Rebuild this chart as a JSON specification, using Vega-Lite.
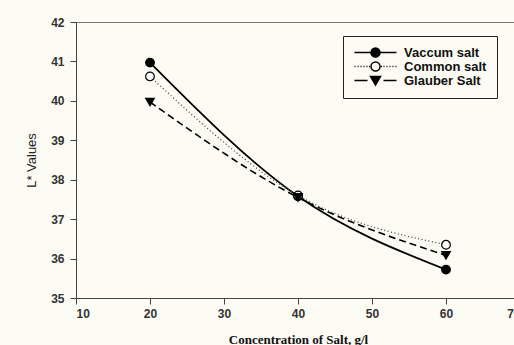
{
  "$schema": "https://vega.github.io/schema/vega-lite/v6.json",
  "autosize": {"type": "none"},
  "padding": {"left": 76, "top": 22, "right": 0, "bottom": 47},
  "width": 444,
  "height": 276,
  "background": "#fcfbf4",
  "config": {
    "view": {"stroke": "#777", "strokeWidth": 1},
    "axis": {
      "domainColor": "#444",
      "tickColor": "#444",
      "grid": false,
      "labelFont": "Liberation Sans",
      "labelFontWeight": "bold",
      "labelFontSize": 12,
      "labelColor": "#333",
      "tickSize": 6
    }
  },
  "data": {
    "values": [
      {"series": "Vaccum salt", "conc": 20, "L": 40.97},
      {"series": "Vaccum salt", "conc": 40, "L": 37.58},
      {"series": "Vaccum salt", "conc": 60, "L": 35.72},
      {"series": "Common salt", "conc": 20, "L": 40.62},
      {"series": "Common salt", "conc": 40, "L": 37.60},
      {"series": "Common salt", "conc": 60, "L": 36.35},
      {"series": "Glauber Salt", "conc": 20, "L": 39.97},
      {"series": "Glauber Salt", "conc": 40, "L": 37.55},
      {"series": "Glauber Salt", "conc": 60, "L": 36.08}
    ]
  },
  "encoding": {
    "x": {
      "field": "conc", "type": "quantitative",
      "scale": {"domain": [10, 70], "nice": false, "zero": false},
      "axis": {"values": [10, 20, 30, 40, 50, 60, 70], "title": "Concentration of Salt, g/l",
        "titleFont": "Liberation Serif", "titleFontSize": 13, "titleFontWeight": "bold", "titleColor": "#111",
        "labelPadding": 4, "titlePadding": 14}
    },
    "y": {
      "field": "L", "type": "quantitative",
      "scale": {"domain": [35, 42], "nice": false, "zero": false},
      "axis": {"values": [35, 36, 37, 38, 39, 40, 41, 42], "title": "L* Values",
        "titleFont": "Liberation Sans", "titleFontSize": 13, "titleFontWeight": "normal", "titleColor": "#222",
        "labelPadding": 6, "titlePadding": 12}
    }
  },
  "layer": [
    {
      "transform": [{"filter": "datum.series === 'Vaccum salt'"}],
      "mark": {"type": "line", "interpolate": "monotone", "stroke": "black", "strokeWidth": 1.8},
      "encoding": {
        "opacity": {
          "field": "series", "type": "nominal",
          "scale": {"domain": ["Vaccum salt", "Common salt", "Glauber Salt"], "range": [1, 1, 1]},
          "legend": {
            "title": null,
            "orient": "none",
            "legendX": 267,
            "legendY": 14,
            "strokeColor": "#222",
            "padding": 10,
            "symbolSize": 100,
            "symbolStrokeWidth": 1.5,
            "symbolStrokeColor": "black",
            "symbolType": {"expr": "datum.value === 'Vaccum salt' ? 'M-1,0H7.4M2.3,0A0.9,0.9,0,1,1,4.1,0A0.9,0.9,0,1,1,2.3,0M2.6,0A0.6,0.6,0,1,1,3.8,0A0.6,0.6,0,1,1,2.6,0M2.9,0A0.3,0.3,0,1,1,3.5,0A0.3,0.3,0,1,1,2.9,0' : datum.value === 'Common salt' ? 'M-1,0H-0.8M-0.4,0H-0.2M0.2,0H0.4M0.8,0H1M1.4,0H1.6M1.9,0H2.1M4.3,0H4.5M4.8,0H5M5.4,0H5.6M6,0H6.2M6.6,0H6.8M7.2,0H7.4M2.3,0A0.9,0.9,0,1,1,4.1,0A0.9,0.9,0,1,1,2.3,0' : 'M-1,0H1.6M4.8,0H7.4M2.2,-0.8L4.2,-0.8L3.2,0.9ZM2.65,-0.5L3.75,-0.5L3.2,0.4ZM3.05,-0.3L3.35,-0.3L3.2,0Z'"},
            "labelFont": "Liberation Sans",
            "labelFontWeight": "bold",
            "labelFontSize": 13,
            "labelColor": "#111",
            "rowPadding": -3,
            "labelOffset": 38,
            "fillColor": "#fcfbf4"
          }
        }
      }
    },
    {
      "transform": [{"filter": "datum.series === 'Common salt'"}],
      "mark": {"type": "line", "interpolate": "monotone", "stroke": "#444", "strokeWidth": 1.3, "strokeDash": [1, 2.5]}
    },
    {
      "transform": [{"filter": "datum.series === 'Glauber Salt'"}],
      "mark": {"type": "line", "interpolate": "monotone", "stroke": "black", "strokeWidth": 1.6, "strokeDash": [7, 4]}
    },
    {
      "transform": [{"filter": "datum.series === 'Vaccum salt'"}],
      "mark": {"type": "point", "shape": "circle", "filled": true, "fill": "black", "stroke": "black", "strokeWidth": 1.2, "size": 75, "opacity": 1}
    },
    {
      "transform": [{"filter": "datum.series === 'Common salt'"}],
      "mark": {"type": "point", "shape": "circle", "filled": true, "fill": "white", "stroke": "black", "strokeWidth": 1.2, "size": 75, "opacity": 1}
    },
    {
      "transform": [{"filter": "datum.series === 'Glauber Salt'"}],
      "mark": {"type": "point", "shape": "triangle-down", "filled": true, "fill": "black", "stroke": "black", "strokeWidth": 1.2, "size": 75, "opacity": 1}
    }
  ]
}
